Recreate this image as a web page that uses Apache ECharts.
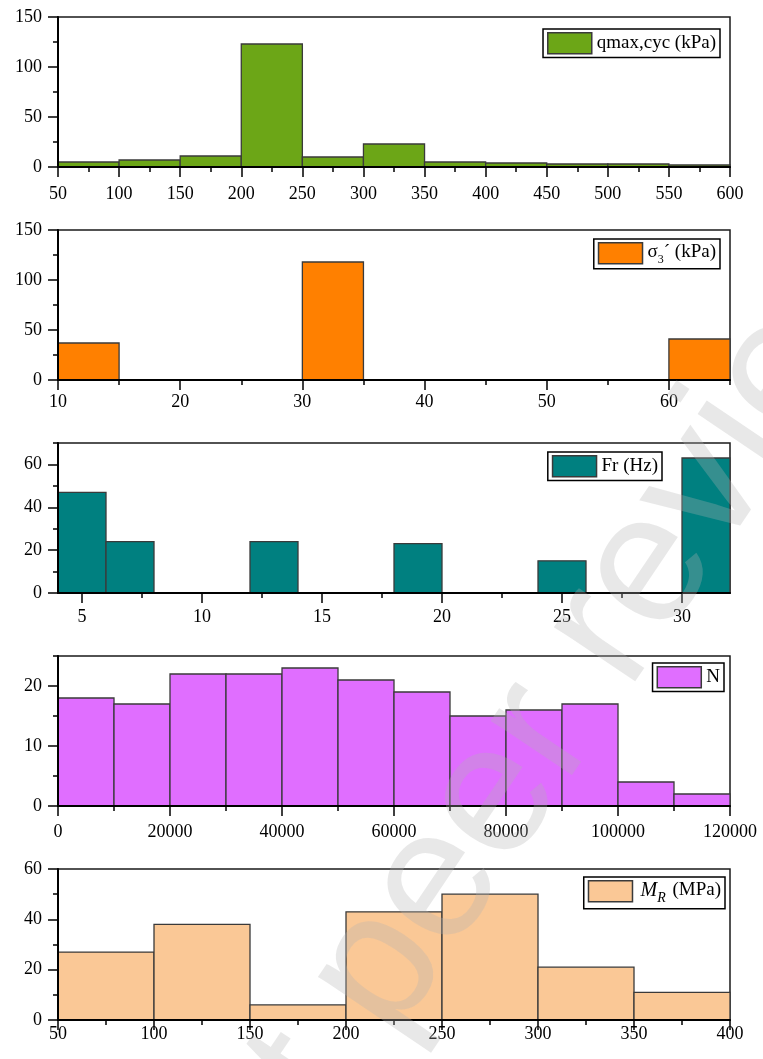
<!DOCTYPE html>
<html>
<head>
<meta charset="utf-8">
<script src="https://cdn.jsdelivr.net/npm/echarts@6/dist/echarts.min.js"></script>
<style>
  html, body { margin: 0; padding: 0; background: #fff; }
  #chart { width: 763px; height: 1059px; }
</style>
</head>
<body>
<div id="chart"></div>
<script>
// ---- histogram data: bin edges and counts ----
const qEdges  = [50, 100, 150, 200, 250, 300, 350, 400, 450, 500, 550, 600];
const qCounts = [5, 7, 11, 123, 10, 23, 5, 4, 3, 3, 2];

const s3Edges  = [10, 15, 20, 25, 30, 35, 40, 45, 50, 55, 60, 65];
const s3Counts = [37, 0, 0, 0, 118, 0, 0, 0, 0, 0, 41];

const frEdges  = [4, 6, 8, 10, 12, 14, 16, 18, 20, 22, 24, 26, 28, 30, 32];
const frCounts = [47, 24, 0, 0, 24, 0, 0, 23, 0, 0, 15, 0, 0, 63];

const nEdges  = [0, 10000, 20000, 30000, 40000, 50000, 60000, 70000, 80000, 90000, 100000, 110000, 120000];
const nCounts = [18, 17, 22, 22, 23, 21, 19, 15, 16, 17, 4, 2];

const mrEdges  = [50, 100, 150, 200, 250, 300, 350, 400];
const mrCounts = [27, 38, 6, 43, 50, 21, 11];

// ---- tick labels (major) and minor tick positions ----
const qXTicks  = [50, 100, 150, 200, 250, 300, 350, 400, 450, 500, 550, 600];
const qXMinor  = [75, 125, 175, 225, 275, 325, 375, 425, 475, 525, 575];
const qYTicks  = [0, 50, 100, 150];
const qYMinor  = [25, 75, 125];

const s3XTicks = [10, 20, 30, 40, 50, 60];
const s3XMinor = [15, 25, 35, 45, 55, 65];
const s3YTicks = [0, 50, 100, 150];
const s3YMinor = [25, 75, 125];

const frXTicks = [5, 10, 15, 20, 25, 30];
const frXMinor = [7.5, 12.5, 17.5, 22.5, 27.5];
const frYTicks = [0, 20, 40, 60];
const frYMinor = [10, 30, 50, 70];

const nXTicks  = [0, 20000, 40000, 60000, 80000, 100000, 120000];
const nXMinor  = [10000, 30000, 50000, 70000, 90000, 110000];
const nYTicks  = [0, 10, 20];
const nYMinor  = [5, 15, 25];

const mrXTicks = [50, 100, 150, 200, 250, 300, 350, 400];
const mrXMinor = [75, 125, 175, 225, 275, 325, 375];
const mrYTicks = [0, 20, 40, 60];
const mrYMinor = [10, 30, 50];

const seriesNames = ['qmax,cyc (kPa)', 'sigma3', 'Fr (Hz)', 'N', 'MR'];

// ---- panel definitions ----
const FONT = 'Liberation Serif';
const panels = [
  { name: seriesNames[0], edges: qEdges,  counts: qCounts,  xMin: 50, xMax: 600,    yMax: 150,
    xT: qXTicks,  xM: qXMinor,  yT: qYTicks,  yM: qYMinor,  color: '#6CA617',
    top: 17,  height: 150, xMargin: 18, legend: { right: 43, top: 29 },
    legendText: 'qmax,cyc (kPa)' },
  { name: seriesNames[1], edges: s3Edges, counts: s3Counts, xMin: 10, xMax: 65,     yMax: 150,
    xT: s3XTicks, xM: s3XMinor, yT: s3YTicks, yM: s3YMinor, color: '#FF8000',
    top: 230, height: 150, xMargin: 13, legend: { right: 43, top: 239 },
    legendText: '{t|σ}{sub|3}{t|´ (kPa)}' },
  { name: seriesNames[2], edges: frEdges, counts: frCounts, xMin: 4, xMax: 32,      yMax: 70,
    xT: frXTicks, xM: frXMinor, yT: frYTicks, yM: frYMinor, color: '#008080',
    top: 443, height: 150, xMargin: 15, legend: { right: 101, top: 452 },
    legendText: 'Fr (Hz)' },
  { name: seriesNames[3], edges: nEdges,  counts: nCounts,  xMin: 0, xMax: 120000,  yMax: 25,
    xT: nXTicks,  xM: nXMinor,  yT: nYTicks,  yM: nYMinor,  color: '#E06EFF',
    top: 656, height: 150, xMargin: 17, legend: { right: 39, top: 663 },
    legendText: 'N' },
  { name: seriesNames[4], edges: mrEdges, counts: mrCounts, xMin: 50, xMax: 400,    yMax: 60,
    xT: mrXTicks, xM: mrXMinor, yT: mrYTicks, yM: mrYMinor, color: '#FAC896',
    top: 869, height: 151, xMargin: 5, legend: { right: 38, top: 877 },
    legendText: '{it|M}{itsub|R}{t| (MPa)}' }
];

const grid = [], xAxis = [], yAxis = [], series = [], legend = [];

const richText = {
  t:     { fontFamily: FONT, fontSize: 19, color: '#000', lineHeight: 21, verticalAlign: 'top' },
  sub:   { fontFamily: FONT, fontSize: 12, color: '#000', lineHeight: 12, padding: [11, 0, 0, 0], verticalAlign: 'top' },
  it:    { fontFamily: FONT, fontSize: 20, fontStyle: 'italic', color: '#000', lineHeight: 21, verticalAlign: 'top', padding: [0, 0, 0, 3] },
  itsub: { fontFamily: FONT, fontSize: 14, fontStyle: 'italic', color: '#000', lineHeight: 13, padding: [11, 2, 0, 0], verticalAlign: 'top' }
};

panels.forEach((p, i) => {
  grid.push({
    left: 58, right: 33, top: p.top, height: p.height,
    show: true, borderColor: '#1a1a1a', borderWidth: 1.5, backgroundColor: '#fff'
  });

  // main x axis: line, major ticks, labels
  xAxis.push({
    type: 'value', gridIndex: i, min: p.xMin, max: p.xMax, position: 'bottom', z: 10,
    axisLine: { show: true, onZero: false, lineStyle: { color: '#000', width: 2 } },
    axisTick: { show: true, customValues: p.xT, length: 10, lineStyle: { color: '#000', width: 1.5 } },
    axisLabel: { show: true, customValues: p.xT, margin: p.xMargin, color: '#000',
                 fontFamily: FONT, fontSize: 18, formatter: v => String(v) },
    splitLine: { show: false }
  });
  // minor x ticks
  xAxis.push({
    type: 'value', gridIndex: i, min: p.xMin, max: p.xMax, position: 'bottom', z: 10,
    axisLine: { show: false },
    axisTick: { show: true, customValues: p.xM, length: 5, lineStyle: { color: '#000', width: 1.5 } },
    axisLabel: { show: false },
    splitLine: { show: false }
  });
  // main y axis
  yAxis.push({
    type: 'value', gridIndex: i, min: 0, max: p.yMax, position: 'left', z: 10,
    axisLine: { show: true, onZero: false, lineStyle: { color: '#000', width: 2 } },
    axisTick: { show: true, customValues: p.yT, length: 10, lineStyle: { color: '#000', width: 1.5 } },
    axisLabel: { show: true, customValues: p.yT, margin: 16, color: '#000',
                 fontFamily: FONT, fontSize: 18, formatter: v => String(v) },
    splitLine: { show: false }
  });
  // minor y ticks
  yAxis.push({
    type: 'value', gridIndex: i, min: 0, max: p.yMax, position: 'left', z: 10,
    axisLine: { show: false },
    axisTick: { show: true, customValues: p.yM, length: 5, lineStyle: { color: '#000', width: 1.5 } },
    axisLabel: { show: false },
    splitLine: { show: false }
  });

  const data = p.counts.map((c, k) => [p.edges[k], p.edges[k + 1], c]);
  series.push({
    name: p.name,
    type: 'custom',
    xAxisIndex: i * 2,
    yAxisIndex: i * 2,
    z: 2,
    itemStyle: { color: p.color, borderColor: '#3a3a3a', borderWidth: 1.3 },
    encode: { x: [0, 1], y: 2 },
    data: data,
    renderItem: function (params, api) {
      const count = api.value(2);
      if (!count) return null;
      const topLeft = api.coord([api.value(0), count]);
      const botRight = api.coord([api.value(1), 0]);
      return {
        type: 'rect',
        shape: { x: topLeft[0], y: topLeft[1], width: botRight[0] - topLeft[0], height: botRight[1] - topLeft[1] },
        style: { fill: p.color, stroke: '#3a3a3a', lineWidth: 1.3 }
      };
    }
  });

  legend.push({
    data: [{ name: p.name, icon: 'rect',
             itemStyle: { color: p.color, borderColor: '#3a3a3a', borderWidth: 1.5 } }],
    right: p.legend.right, top: p.legend.top,
    orient: 'vertical',
    itemWidth: 44, itemHeight: 21,
    padding: [3, 4, 3, 4],
    borderColor: '#000', borderWidth: 1.5, borderRadius: 0,
    backgroundColor: '#fff',
    selectedMode: false,
    formatter: () => p.legendText,
    textStyle: { fontFamily: FONT, fontSize: 19, color: '#000', rich: richText }
  });
});

const chart = echarts.init(document.getElementById('chart'), null, { renderer: 'canvas' });
chart.setOption({
  backgroundColor: '#fff',
  animation: false,
  grid, xAxis, yAxis, series, legend,
  graphic: [{
    type: 'text',
    x: 580, y: 672,
    rotation: 56 * Math.PI / 180,
    z: 100,
    silent: true,
    style: {
      text: 'Not peer reviewed',
      font: '185px "Liberation Sans", Arial, sans-serif',
      fill: 'rgba(180,180,180,0.3)',
      align: 'center',
      verticalAlign: 'middle'
    }
  }]
});
</script>
</body>
</html>
